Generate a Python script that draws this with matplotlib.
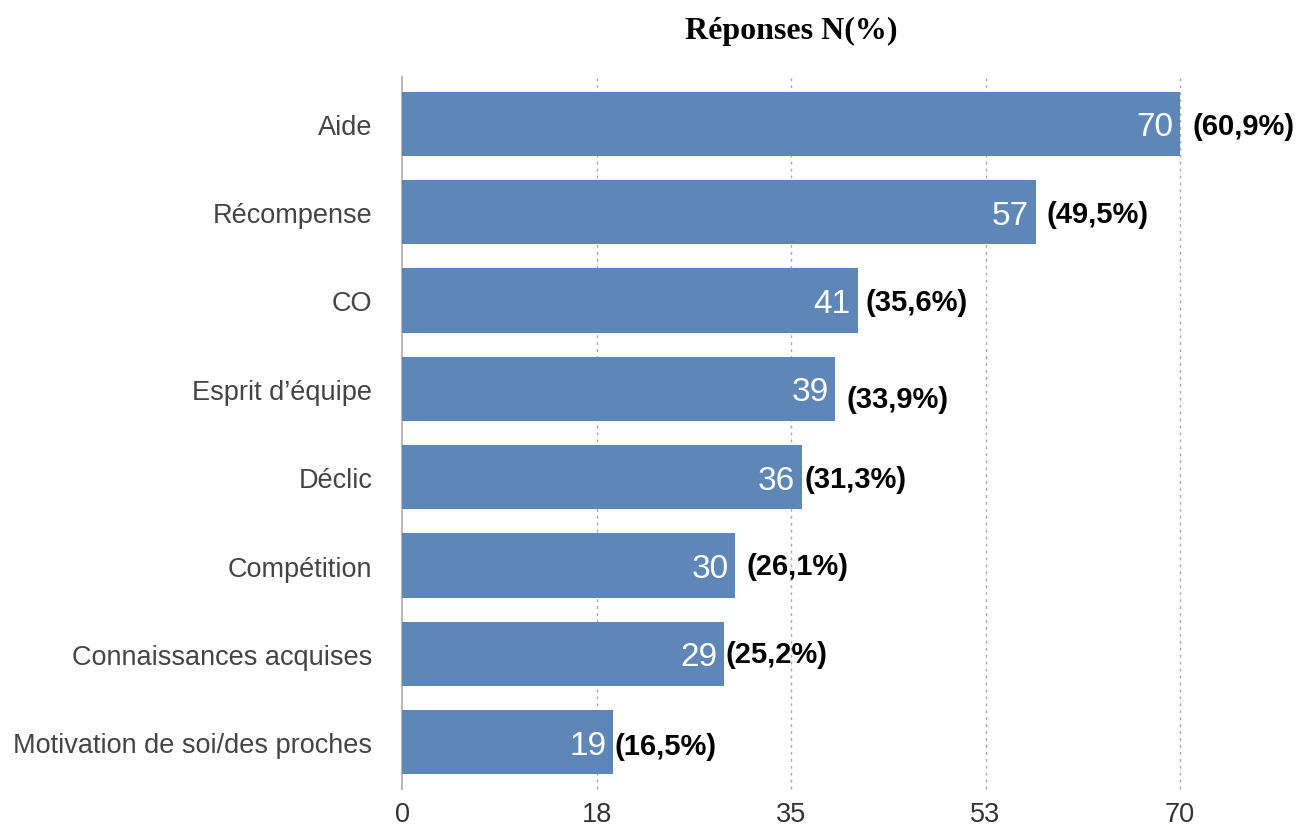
import matplotlib
matplotlib.use("Agg")
import matplotlib.pyplot as plt

categories = ["Aide", "Récompense", "CO", "Esprit d\u2019équipe", "Déclic",
              "Compétition", "Connaissances acquises", "Motivation de soi/des proches"]
values = [70, 57, 41, 39, 36, 30, 29, 19]
pct_labels = ["(60,9%)", "(49,5%)", "(35,6%)", "(33,9%)", "(31,3%)",
              "(26,1%)", "(25,2%)", "(16,5%)"]
xticks = [0, 17.5, 35, 52.5, 70]
xtick_labels = ["0", "18", "35", "53", "70"]
title = "Réponses N(%)"

# label offsets in pixels (dx, dy) for percent labels
pct_dx = [13, 11, 8, 11, 2, 11, 1, 1]
pct_dy = [0, 0, 0, -8, 0, 2, 2, -2]

plt.rcParams['font.family'] = ['Liberation Sans', 'DejaVu Sans']
fig = plt.figure(figsize=(13.01, 8.29), dpi=100)
ax = fig.add_axes([402/1301, 1-790/829, 778/1301, 712/829])

bar_color = "#5E87B8"
y = list(range(len(categories)))
ax.barh(y, values, height=0.725, color=bar_color, zorder=3)
ax.set_xlim(0, 70)
ax.set_ylim(7.53, -0.53)

ax.set_xticks(xticks)
ax.set_xticklabels(xtick_labels, fontsize=19.5, color="#333333")
ax.set_yticks(y)
ax.set_yticklabels(categories, fontsize=19.5, color="#444444")
ax.tick_params(axis='both', length=0)
ax.tick_params(axis='y', pad=21.5)
ax.tick_params(axis='x', pad=9)

for v in xticks[1:]:
    ax.axvline(v, color="#aaaaaa", linestyle=(0, (2, 3)), linewidth=1, zorder=1,
               clip_on=False)

for s in ["top", "right", "bottom"]:
    ax.spines[s].set_visible(False)
ax.spines["left"].set_color("#bbbbbb")
ax.spines["left"].set_linewidth(1.5)

for i, (v, p) in enumerate(zip(values, pct_labels)):
    ax.annotate(str(v), (v, i), xytext=(-7, -3), textcoords="offset pixels",
                ha="right", va="center", color="white", fontsize=24, zorder=4)
    ax.annotate(p, (v, i), xytext=(pct_dx[i], pct_dy[i] - 2), textcoords="offset pixels",
                ha="left", va="center", color="black", fontsize=21,
                fontweight="bold", zorder=4)

fig.text((402 + 1180) / 2 / 1301, 1 - 31/829, title, ha="center", va="center",
         fontsize=23, fontweight="bold", family="Liberation Serif")

fig.savefig("out.png", dpi=100)
